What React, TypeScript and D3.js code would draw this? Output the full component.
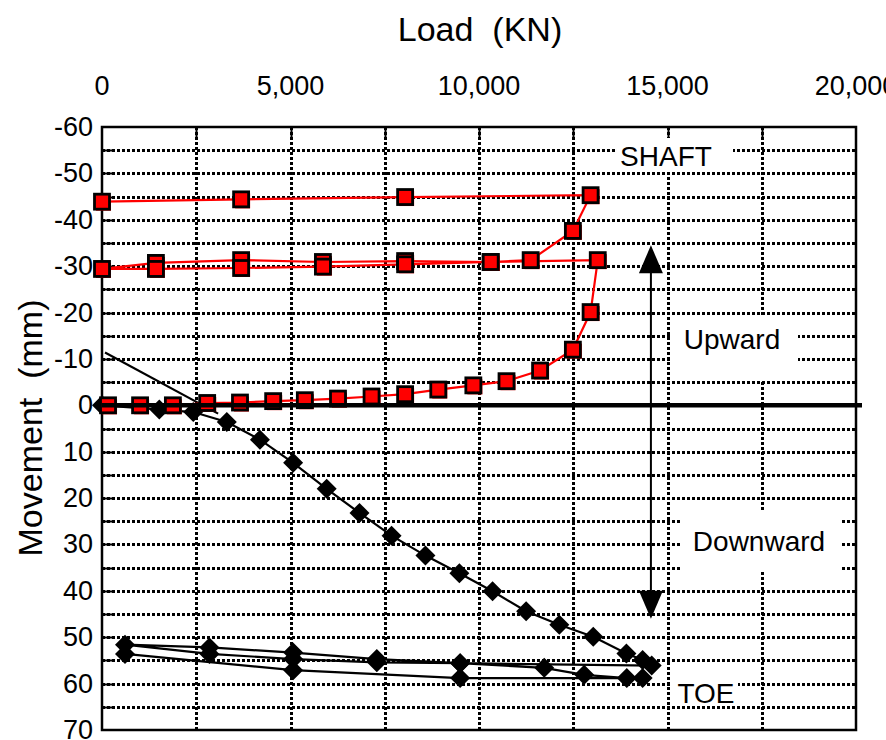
import React from "react";
import * as d3 from "d3";

// ---- Data ----
const shaftLoad = [160, 1010, 1880, 2790, 3660, 4540, 5380, 6260, 7150, 8040, 8920, 9850, 10730, 11620, 12490, 12960, 13150,
  10310, 8040, 5860, 3690, 1430, 0,
  1430, 3690, 5860, 8040, 10310, 11370, 12490, 12960,
  8040, 3690, 0];
const shaftMove = [0, 0, 0, -0.5, -0.6, -0.9, -1.1, -1.45, -1.9, -2.4, -3.4, -4.3, -5.2, -7.5, -12.0, -20.1, -31.3,
  -30.9, -31.1, -30.9, -31.3, -30.7, -29.4,
  -29.4, -29.6, -29.9, -30.4, -30.9, -31.3, -37.6, -45.3,
  -44.9, -44.4, -43.9];

const toeLoad = [0, 1520, 2420, 3310, 4190, 5070, 5960, 6830, 7680, 8580, 9480, 10360, 11250, 12130, 13030, 13910, 14340, 14580,
  9500, 7290, 5070, 2850, 610,
  2850, 5070, 7290, 9500, 11730, 12790, 13920, 14340,
  9500, 5070, 610];
const toeMove = [0, 0.9, 1.45, 3.6, 7.4, 12.4, 18.0, 23.2, 28.1, 32.4, 36.2, 40.1, 44.4, 47.3, 49.9, 53.5, 54.9, 56.1,
  55.6, 54.7, 53.3, 52.2, 51.6,
  53.6, 54.7, 55.4, 55.6, 56.6, 58.1, 58.8, 58.8,
  58.8, 57.1, 53.6];

const trendLoad = [80, 3080];
const trendMove = [-11.4, 1.8];

const xTicks = [0, 5000, 10000, 15000, 20000];
const xGrid = [2500, 5000, 7500, 10000, 12500, 15000, 17500];
const yTicks = [-60, -50, -40, -30, -20, -10, 0, 10, 20, 30, 40, 50, 60, 70];
const yGrid = [-55, -50, -45, -40, -35, -30, -25, -20, -15, -10, -5, 5, 10, 15, 20, 25, 30, 35, 40, 45, 50, 55, 60, 65];

const arrowLoad = 14560;
const arrowTop = -34.5;
const arrowBottom = 46;

const FONT = "'Liberation Sans', Arial, sans-serif";

export default function App() {
  const W = 886, H = 740;
  const x = d3.scaleLinear().domain([0, 20000]).range([102, 856]);
  const y = d3.scaleLinear().domain([-60, 70]).range([127, 730]);
  const fmt = d3.format(",");

  const mkPath = (xs: number[], ys: number[]) =>
    d3.line<[number, number]>().x(d => x(d[0])).y(d => y(d[1]))(xs.map((v, i) => [v, ys[i]]))!;

  const x0 = x(0), x1 = x(20000), yTop = y(-60), yBot = y(70);
  const dash = "3,2";
  const sq = 15;
  const dm = 10;
  const ax = x(arrowLoad), ayT = y(arrowTop), ayB = y(arrowBottom);
  const r = (v: number) => Math.round(v);

  return (
    <svg width={W} height={H} style={{ position: "absolute", left: 0, top: 0, background: "#fff" }} fontFamily={FONT}>
      <rect x={0} y={0} width={W} height={H} fill="#fff" />
      {/* grid */}
      {xGrid.map(v => (
        <line key={"xg" + v} x1={r(x(v)) + 0.5} x2={r(x(v)) + 0.5} y1={yTop} y2={yBot} stroke="#000" strokeWidth={3} strokeDasharray={dash} />
      ))}
      {yGrid.map(v => (
        <line key={"yg" + v} x1={x0} x2={x1} y1={r(y(v)) + 0.5} y2={r(y(v)) + 0.5} stroke="#000" strokeWidth={3} strokeDasharray={dash} />
      ))}
      {/* ticks */}
      {yGrid.map(v => (
        <line key={"yt" + v} x1={x0} x2={x0 + 10} y1={r(y(v)) + 0.5} y2={r(y(v)) + 0.5} stroke="#000" strokeWidth={2} />
      ))}
      {xGrid.map(v => (
        <line key={"xt" + v} x1={r(x(v)) + 0.5} x2={r(x(v)) + 0.5} y1={yTop} y2={yTop + 10} stroke="#000" strokeWidth={2} />
      ))}
      {/* label boxes */}
      <rect x={617} y={138} width={116} height={34} fill="#fff" />
      <rect x={671} y={316} width={127} height={64} fill="#fff" />
      <rect x={680} y={512} width={160} height={58} fill="#fff" />
      <rect x={671} y={672} width={67} height={28} fill="#fff" />
      {/* frame */}
      <rect x={x0} y={yTop} width={x1 - x0} height={yBot - yTop} fill="none" stroke="#000" strokeWidth={2.5} />

      {/* trend line */}
      <path d={mkPath(trendLoad, trendMove)} fill="none" stroke="#000" strokeWidth={2.2} />
      {/* toe */}
      <path d={mkPath(toeLoad, toeMove)} fill="none" stroke="#000" strokeWidth={2.2} />
      {toeLoad.map((v, i) => {
        const cx = x(v), cy = y(toeMove[i]);
        return <path key={"t" + i} d={`M${cx},${cy - dm}L${cx + dm},${cy}L${cx},${cy + dm}L${cx - dm},${cy}Z`} fill="#000" />;
      })}
      {/* shaft */}
      <path d={mkPath(shaftLoad, shaftMove)} fill="none" stroke="#ff0000" strokeWidth={2.2} />
      {shaftLoad.map((v, i) => {
        const cx = x(v), cy = y(shaftMove[i]);
        return (
          <g key={"s" + i}>
            <rect x={cx - sq / 2 + 1.5} y={cy - sq / 2 + 1.5} width={sq} height={sq} fill="#ff0000" />
            <rect x={cx - sq / 2} y={cy - sq / 2} width={sq} height={sq} fill="#ff0000" stroke="#000" strokeWidth={2.8} />
          </g>
        );
      })}
      {/* zero line */}
      <line x1={x0} x2={x1 + 6} y1={y(0)} y2={y(0)} stroke="#000" strokeWidth={4.5} />

      {/* double arrow */}
      <line x1={ax} x2={ax} y1={ayT + 20} y2={ayB - 20} stroke="#000" strokeWidth={2} />
      <path d={`M${ax},${ayT}L${ax + 12},${ayT + 28}L${ax - 12},${ayT + 28}Z`} fill="#000" />
      <path d={`M${ax},${ayB}L${ax + 12},${ayB - 28}L${ax - 12},${ayB - 28}Z`} fill="#000" />

      {/* annotations */}
      <text x={666} y={166} fontSize={28} textAnchor="middle">SHAFT</text>
      <text x={732} y={349} fontSize={28} textAnchor="middle">Upward</text>
      <text x={759} y={551} fontSize={28} textAnchor="middle">Downward</text>
      <text x={706} y={703} fontSize={28} textAnchor="middle">TOE</text>

      {/* axes labels */}
      {xTicks.map(v => (
        <text key={"xl" + v} x={x(v)} y={95} fontSize={27} textAnchor="middle">{fmt(v)}</text>
      ))}
      {yTicks.map(v => (
        <text key={"yl" + v} x={93} y={y(v)} fontSize={27} textAnchor="end" dominantBaseline="central">{v}</text>
      ))}
      <text x={480} y={41} fontSize={34} textAnchor="middle" style={{ whiteSpace: "pre" }}>{"Load  (KN)"}</text>
      <text transform={`translate(30,428) rotate(-90)`} fontSize={34} textAnchor="middle" dominantBaseline="central" style={{ whiteSpace: "pre" }}>{"Movement  (mm)"}</text>
    </svg>
  );
}
